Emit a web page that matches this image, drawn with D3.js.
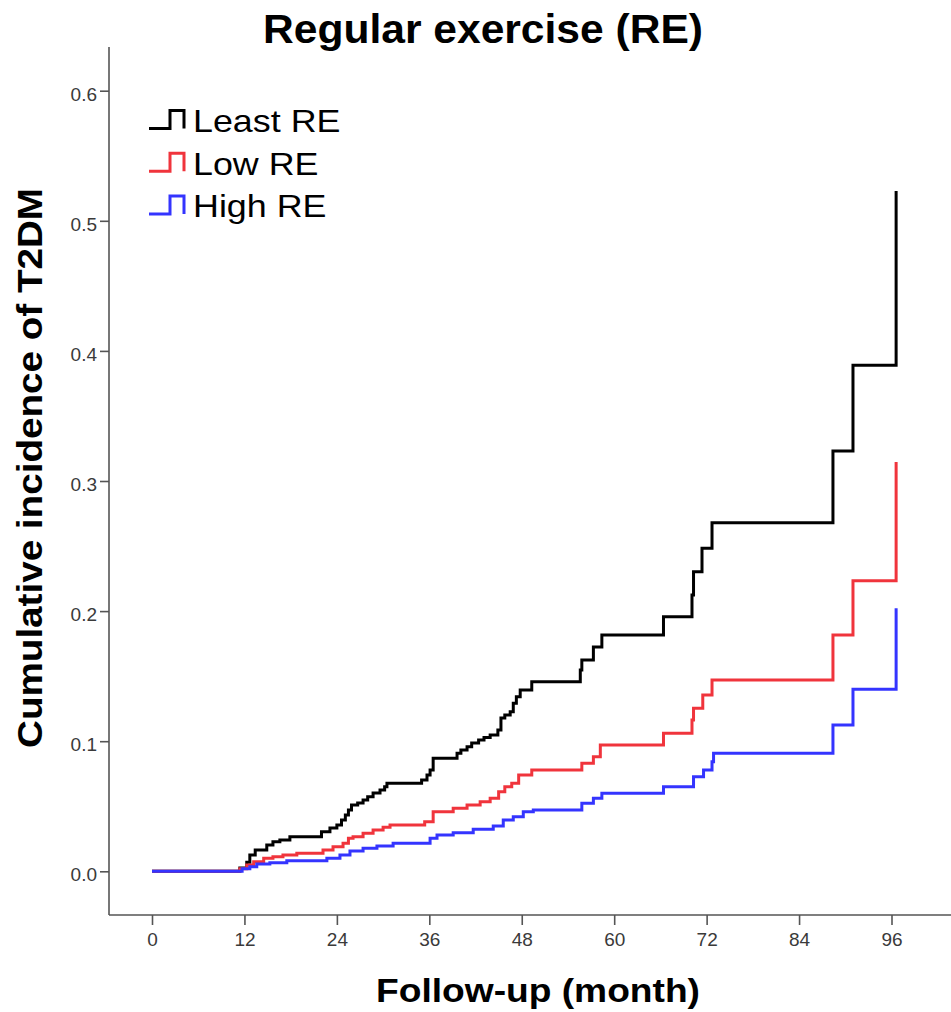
<!DOCTYPE html>
<html>
<head>
<meta charset="utf-8">
<script src="https://cdn.jsdelivr.net/npm/d3@7"></script>
<style>
  html, body { margin: 0; padding: 0; background: #fff; }
  svg { display: block; font-family: "Liberation Sans", Arial, sans-serif; }
</style>
</head>
<body>
<svg id="chart" width="951" height="1012"></svg>
<script>
// ---- data ----
const titleText = "Regular exercise (RE)";
const xLabel = "Follow-up (month)";
const yLabel = "Cumulative incidence of T2DM";
const xTicks = [0, 12, 24, 36, 48, 60, 72, 84, 96];
const yTicks = [0.0, 0.1, 0.2, 0.3, 0.4, 0.5, 0.6];
const seriesNames = ["Least RE", "Low RE", "High RE"];
const seriesColors = ["#000000", "#f0343c", "#3434ff"];

// [month, cumulative incidence] step points
const leastRE = [
  [0, 0], [11.4, 0.0025], [12.3, 0.007], [12.7, 0.0125], [13.4, 0.0164], [14.9, 0.0202],
  [15.7, 0.0228], [16.6, 0.024], [17.9, 0.0266], [22.0, 0.0304], [23.1, 0.0333],
  [24.0, 0.0356], [24.6, 0.0394], [25.1, 0.0433], [25.5, 0.0471], [25.9, 0.051],
  [26.7, 0.0525], [27.4, 0.0548], [28.0, 0.0573], [28.7, 0.0601], [29.6, 0.0625],
  [30.2, 0.065], [30.5, 0.0676], [35.0, 0.0702], [35.7, 0.074], [36.1, 0.0779],
  [36.5, 0.0869], [39.6, 0.0907], [40.1, 0.0932], [40.9, 0.0958], [41.5, 0.0986],
  [42.4, 0.1009], [43.1, 0.1028], [43.9, 0.1048], [44.9, 0.1086], [45.3, 0.1178],
  [45.8, 0.1202], [46.5, 0.1227], [46.9, 0.1291], [47.3, 0.1342], [47.8, 0.1394],
  [49.3, 0.1457], [55.6, 0.1547], [55.8, 0.1624], [57.3, 0.1724], [58.4, 0.1816],
  [66.4, 0.1957], [70.1, 0.2124], [70.3, 0.2303], [71.4, 0.2483], [72.7, 0.268],
  [88.4, 0.323], [91.0, 0.389], [96.6, 0.523]
];
const lowRE = [
  [0, 0], [11.4, 0.002], [12.3, 0.0048], [13.2, 0.0074], [14.5, 0.01], [15.7, 0.0112],
  [17.0, 0.0125], [18.8, 0.0138], [22.2, 0.0164], [23.5, 0.0189], [24.8, 0.0215],
  [25.5, 0.0254], [26.1, 0.0266], [27.4, 0.0292], [28.7, 0.0317], [30.0, 0.0338],
  [30.9, 0.0356], [35.4, 0.0381], [36.5, 0.0458], [39.1, 0.0484], [40.9, 0.051],
  [42.6, 0.0535], [43.9, 0.0561], [45.0, 0.0612], [45.8, 0.065], [46.7, 0.0676],
  [47.6, 0.074], [49.3, 0.0779], [55.8, 0.083], [57.3, 0.0881], [58.2, 0.0971],
  [66.4, 0.1061], [70.1, 0.1163], [70.3, 0.1253], [71.5, 0.1355], [72.7, 0.147],
  [88.4, 0.1816], [91.0, 0.2234], [96.6, 0.3146]
];
const highRE = [
  [0, 0], [11.7, 0.002], [12.7, 0.0035], [13.6, 0.0056], [15.3, 0.0066], [17.5, 0.0081],
  [22.7, 0.01], [24.4, 0.0125], [25.7, 0.0156], [27.4, 0.0177], [29.2, 0.0194],
  [31.3, 0.0215], [36.1, 0.0254], [37.0, 0.0279], [39.1, 0.0297], [41.7, 0.0323],
  [44.3, 0.0348], [45.6, 0.0394], [46.9, 0.042], [48.2, 0.0458], [49.5, 0.0471],
  [55.8, 0.0523], [57.3, 0.0561], [58.4, 0.06], [66.4, 0.065], [70.3, 0.0727],
  [71.6, 0.0779], [72.7, 0.0842], [72.9, 0.0907], [88.4, 0.1125], [91.0, 0.1399],
  [96.6, 0.2022]
];
const seriesData = [leastRE, lowRE, highRE];

// ---- layout ----
const svg = d3.select("#chart");
const axisX = 109, axisY = 915;
const x = d3.scaleLinear().domain([0, 96]).range([152, 891.5]);
const y = d3.scaleLinear().domain([0, 0.6]).range([871.3, 90.7]);
const axisColor = "#555";
const tickTextColor = "#3a3a3a";

// axes lines
svg.append("line").attr("x1", axisX).attr("x2", axisX).attr("y1", 47).attr("y2", axisY)
  .attr("stroke", axisColor).attr("stroke-width", 1.6);
svg.append("line").attr("x1", axisX).attr("x2", 951).attr("y1", axisY).attr("y2", axisY)
  .attr("stroke", axisColor).attr("stroke-width", 1.6);

// y axis
const yAxis = d3.axisLeft(y).tickValues(yTicks).tickFormat(d3.format(".1f")).tickSize(9).tickPadding(3);
const gy = svg.append("g").attr("transform", `translate(${axisX},0)`).call(yAxis);
gy.select(".domain").remove();
gy.selectAll(".tick line").attr("stroke", axisColor).attr("stroke-width", 1.6);
gy.selectAll(".tick text").attr("fill", tickTextColor).attr("font-size", 19)
  .attr("font-family", "Liberation Sans, Arial, sans-serif").attr("dy", "0.5em");

// x axis
const xAxis = d3.axisBottom(x).tickValues(xTicks).tickFormat(d3.format("d")).tickSize(10).tickPadding(8);
const gx = svg.append("g").attr("transform", `translate(0,${axisY})`).call(xAxis);
gx.select(".domain").remove();
gx.selectAll(".tick line").attr("stroke", axisColor).attr("stroke-width", 1.6);
gx.selectAll(".tick text").attr("fill", tickTextColor).attr("font-size", 19)
  .attr("font-family", "Liberation Sans, Arial, sans-serif");

// lines
const line = d3.line().x(d => x(d[0])).y(d => y(d[1])).curve(d3.curveStepAfter);
seriesData.forEach((data, i) => {
  svg.append("path").datum(data).attr("d", line)
    .attr("fill", "none").attr("stroke", seriesColors[i]).attr("stroke-width", 3)
    .attr("stroke-linejoin", "miter").attr("stroke-linecap", "butt");
});

// legend
const legend = svg.append("g");
seriesNames.forEach((name, i) => {
  const by = 128.5 + i * 42.7;
  legend.append("path")
    .attr("d", `M149,${by}H170V${by - 18}H184V${by}`)
    .attr("fill", "none").attr("stroke", seriesColors[i]).attr("stroke-width", 3);
  const t = legend.append("text").attr("x", 193).attr("y", by + 3.5)
    .attr("font-size", 32).attr("fill", "#000").text(name);
  const w = t.node().getComputedTextLength();
  t.attr("textLength", w * 1.12).attr("lengthAdjust", "spacingAndGlyphs");
});

// title
svg.append("text").attr("x", 483).attr("y", 42.5).attr("text-anchor", "middle")
  .attr("font-size", 40).attr("font-weight", "bold").attr("fill", "#000")
  .attr("textLength", 440).attr("lengthAdjust", "spacingAndGlyphs").text(titleText);

// x label
svg.append("text").attr("x", 538).attr("y", 1002).attr("text-anchor", "middle")
  .attr("font-size", 33).attr("font-weight", "bold").attr("fill", "#000")
  .attr("textLength", 324).attr("lengthAdjust", "spacingAndGlyphs").text(xLabel);

// y label
svg.append("text").attr("transform", "translate(41.5,468) rotate(-90)").attr("text-anchor", "middle")
  .attr("font-size", 35).attr("font-weight", "bold").attr("fill", "#000")
  .attr("textLength", 560).attr("lengthAdjust", "spacingAndGlyphs").text(yLabel);
</script>
</body>
</html>
